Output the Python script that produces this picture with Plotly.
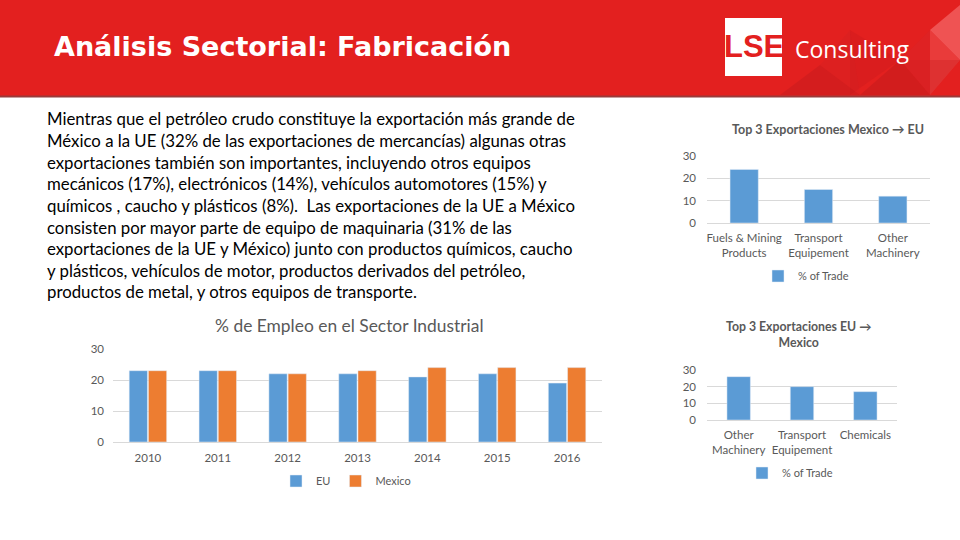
import plotly.graph_objects as go

# ---------------- data ----------------
years = ["2010", "2011", "2012", "2013", "2014", "2015", "2016"]
eu_employment = [23, 23, 22, 22, 21, 22, 19]
mexico_employment = [23, 23, 22, 23, 24, 24, 24]

mx_eu_categories = ["Fuels & Mining Products", "Transport Equipement", "Other Machinery"]
mx_eu_ticklabels = ["Fuels & Mining<br>Products", "Transport<br>Equipement", "Other<br>Machinery"]
mx_eu_share = [24, 15, 12]

eu_mx_categories = ["Other Machinery", "Transport Equipement", "Chemicals"]
eu_mx_ticklabels = ["Other<br>Machinery", "Transport<br>Equipement", "Chemicals"]
eu_mx_share = [26, 20, 17]

y_ticks = [0, 10, 20, 30]

body_lines = [
    "Mientras que el petróleo crudo constituye la exportación más grande de",
    "México a la UE (32% de las exportaciones de mercancías) algunas otras",
    "exportaciones también son importantes, incluyendo otros equipos",
    "mecánicos (17%), electrónicos (14%), vehículos automotores (15%) y",
    "químicos , caucho y plásticos (8%).  Las exportaciones de la UE a México",
    "consisten por mayor parte de equipo de maquinaria (31% de las",
    "exportaciones de la UE y México) junto con productos químicos, caucho",
    "y plásticos, vehículos de motor, productos derivados del petróleo,",
    "productos de metal, y otros equipos de transporte.",
]

BLUE = "#5B9BD5"
ORANGE = "#ED7D31"
GRID = "#D9D9D9"
TXT = "#595959"
RED = "#E3201F"
W, H = 960, 540
FONT = "Lato, Open Sans, sans-serif"


def px(x):
    return x / W


def py(y):
    return 1 - y / H


fig = go.Figure()

# main chart
fig.add_trace(go.Bar(x=years, y=eu_employment, name="EU", marker_color=BLUE,
                     xaxis="x", yaxis="y", legend="legend"))
fig.add_trace(go.Bar(x=years, y=mexico_employment, name="Mexico", marker_color=ORANGE,
                     xaxis="x", yaxis="y", legend="legend"))
# top right chart
fig.add_trace(go.Bar(x=mx_eu_categories, y=mx_eu_share, name="% of Trade", marker_color=BLUE,
                     xaxis="x2", yaxis="y2", legend="legend2", width=0.38))
# bottom right chart
fig.add_trace(go.Bar(x=eu_mx_categories, y=eu_mx_share, name="% of Trade", marker_color=BLUE,
                     xaxis="x3", yaxis="y3", legend="legend3", width=0.37))

tickfont = dict(family=FONT, size=11.5, color=TXT)
yax_common = dict(range=[0, 30], tickvals=y_ticks, showgrid=True, gridcolor=GRID, gridwidth=1,
                  zeroline=False, showline=False, ticks="", tickfont=tickfont, fixedrange=True,
                  automargin=False)
xax_common = dict(showline=True, linecolor=GRID, ticks="", tickfont=tickfont, showgrid=False,
                  automargin=False, fixedrange=True)
legfont = dict(family=FONT, size=11, color=TXT)

fig.update_layout(
    width=W, height=H,
    margin=dict(l=0, r=0, t=0, b=0, pad=0, autoexpand=False),
    paper_bgcolor="white", plot_bgcolor="white",
    barmode="group", bargap=0.45, bargroupgap=0.05,
    showlegend=True,
    xaxis=dict(domain=[px(113), px(602)], anchor="y", ticklabelstandoff=5, **xax_common),
    yaxis=dict(domain=[py(442), py(349)], anchor="x", ticklabelstandoff=8, **yax_common),
    xaxis2=dict(domain=[px(707), px(930)], anchor="y2", ticklabelstandoff=4,
                tickmode="array", tickvals=mx_eu_categories, ticktext=mx_eu_ticklabels,
                **xax_common),
    yaxis2=dict(domain=[py(223), py(156)], anchor="x2", ticklabelstandoff=10, **yax_common),
    xaxis3=dict(domain=[px(707), px(897)], anchor="y3", ticklabelstandoff=4,
                tickmode="array", tickvals=eu_mx_categories, ticktext=eu_mx_ticklabels,
                **xax_common),
    yaxis3=dict(domain=[py(420), py(370)], anchor="x3", ticklabelstandoff=10, **yax_common),
    legend=dict(orientation="h", x=px(346), y=py(481), xanchor="center", yanchor="middle",
                font=legfont, itemwidth=30, bgcolor="rgba(0,0,0,0)"),
    legend2=dict(orientation="h", x=px(806), y=py(276), xanchor="center", yanchor="middle",
                 font=legfont, itemwidth=30, bgcolor="rgba(0,0,0,0)"),
    legend3=dict(orientation="h", x=px(790), y=py(473), xanchor="center", yanchor="middle",
                 font=legfont, itemwidth=30, bgcolor="rgba(0,0,0,0)"),
)

shapes = []
# header band
shapes.append(dict(type="rect", xref="paper", yref="paper", x0=0, x1=1, y0=py(96), y1=1,
                   fillcolor=RED, line_width=0, layer="below"))
shapes.append(dict(type="rect", xref="paper", yref="paper", x0=0, x1=1, y0=py(97.5), y1=py(95.5),
                   fillcolor="#9a3a3a", line_width=0, layer="below"))


def tri(pts, color, op):
    path = "M " + " L ".join(f"{px(x)},{py(y)}" for x, y in pts) + " Z"
    return dict(type="path", xref="paper", yref="paper", path=path, fillcolor=color,
                opacity=op, line_width=0, layer="below")


# decorative triangles
shapes.append(tri([(930, 30), (960, 5), (960, 60)], "#f46a6a", 0.7))
shapes.append(tri([(930, 30), (960, 60), (930, 95)], "#f05555", 0.5))
shapes.append(tri([(850, 30), (900, 60), (850, 95)], "#c81a1e", 0.35))
shapes.append(tri([(900, 60), (960, 60), (930, 95)], "#c81a1e", 0.3))
shapes.append(tri([(780, 95), (820, 65), (860, 95)], "#c01a1d", 0.45))
shapes.append(tri([(860, 95), (900, 60), (930, 95)], "#b8181b", 0.4))
shapes.append(tri([(900, 60), (930, 30), (930, 95)], "#d9262a", 0.4))
shapes.append(tri([(820, 65), (850, 30), (860, 95)], "#d02024", 0.3))
# logo white box
shapes.append(dict(type="rect", xref="paper", yref="paper", x0=px(725), x1=px(782),
                   y0=py(76), y1=py(18), fillcolor="white", line_width=0, layer="below"))
fig.update_layout(shapes=shapes)

ann = []
ann.append(dict(text="<b>Análisis Sectorial: Fabricación</b>", x=px(52), y=py(47), xref="paper",
                yref="paper", xanchor="left", yanchor="middle", showarrow=False,
                font=dict(family="DejaVu Sans, sans-serif", size=27, color="white")))
ann.append(dict(text="<b>LSE</b>", x=px(753.5), y=py(47), xref="paper", yref="paper",
                xanchor="center", yanchor="middle", showarrow=False,
                font=dict(family="Liberation Sans Narrow, Arial Narrow, sans-serif", size=31,
                          color=RED)))
ann.append(dict(text="Consulting", x=px(793), y=py(49), xref="paper", yref="paper",
                xanchor="left", yanchor="middle", showarrow=False,
                font=dict(family="Open Sans, sans-serif", size=23, color="white")))

for i, line in enumerate(body_lines):
    ann.append(dict(text=line, x=px(45), y=py(119 + i * 21.6), xref="paper", yref="paper",
                    xanchor="left", yanchor="middle", showarrow=False,
                    font=dict(family="Lato, sans-serif", size=16.8, color="black")))

ann.append(dict(text="% de Empleo en el Sector Industrial", x=px(349), y=py(325), xref="paper",
                yref="paper", xanchor="center", yanchor="middle", showarrow=False,
                font=dict(family=FONT, size=17.4, color=TXT)))
ann.append(dict(text="<b>Top 3 Exportaciones Mexico → EU</b>", x=px(828), y=py(129),
                xref="paper", yref="paper", xanchor="center", yanchor="middle", showarrow=False,
                font=dict(family=FONT, size=12.5, color=TXT)))
ann.append(dict(text="<b>Top 3 Exportaciones EU →<br>Mexico</b>", x=px(799), y=py(334.5),
                xref="paper", yref="paper", xanchor="center", yanchor="middle", showarrow=False,
                font=dict(family=FONT, size=12.3, color=TXT)))
fig.update_layout(annotations=ann)

fig.write_html("out.html")
